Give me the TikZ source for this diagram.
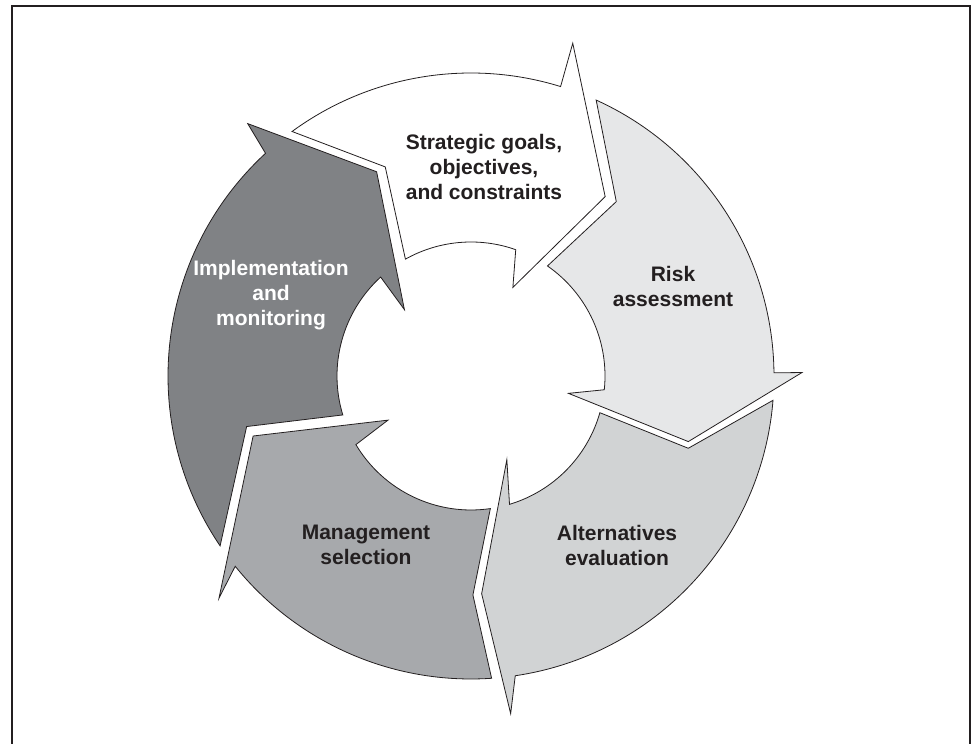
\documentclass[tikz,border=0pt]{standalone}
\usepackage{fontspec}
\setmainfont{Liberation Sans}
\usetikzlibrary{positioning}

\definecolor{inkdark}{HTML}{231F20}
\definecolor{shadeA}{HTML}{FFFFFF}
\definecolor{shadeB}{HTML}{E6E7E8}
\definecolor{shadeC}{HTML}{D1D3D4}
\definecolor{shadeD}{HTML}{A7A9AC}
\definecolor{shadeE}{HTML}{808285}

\newcommand{\Rout}{303pt}
\newcommand{\Rin}{134pt}

\tikzset{
  seg/.style={draw=inkdark, line width=0.8pt, line join=miter},
  cyctext/.style={font=\bfseries\fontsize{21}{25}\selectfont, align=center, text=inkdark, inner sep=0pt}
}

\begin{document}
\begin{tikzpicture}[x=1pt, y=1pt]
\useasboundingbox (0,0) rectangle (977,744);
% frame
\draw[inkdark, line width=2pt] (12,0) -- (12,738) -- (970,738) -- (970,0);

\begin{scope}[shift={(471,368)}]
% strategic goals
\filldraw[seg, fill=shadeA] (126.2:\Rout) arc[start angle=126.2, end angle=72.8, radius=\Rout]
  -- (73.0:348pt) -- (53.2:224pt) -- (64.7:98pt) -- (70.5:\Rin)
  arc[start angle=70.5, end angle=119.3, radius=\Rin] -- (112.3:226pt) -- cycle;
% risk assessment
\filldraw[seg, fill=shadeB] (65.6:\Rout) arc[start angle=65.6, end angle=0.6, radius=\Rout]
  -- (0.6:331pt) -- (-16.8:227pt) -- (-10.1:99pt) -- (-5.9:\Rin)
  arc[start angle=-5.9, end angle=55.2, radius=\Rin] -- (50.2:227pt) -- cycle;
% alternatives evaluation
\filldraw[seg, fill=shadeC] (-4.6:\Rout) arc[start angle=-4.6, end angle=-81.6, radius=\Rout]
  -- (-83.3:340pt) -- (-87.2:218pt) -- (-66.8:91pt) -- (-73.3:\Rin)
  arc[start angle=-73.3, end angle=-15.9, radius=\Rin] -- (-18.4:229pt) -- cycle;
% management selection
\filldraw[seg, fill=shadeD] (273.9:\Rout) arc[start angle=273.9, end angle=218.9, radius=\Rout]
  -- (221.4:336pt) -- (195.4:226pt) -- (208.0:94pt) -- (210.8:\Rin)
  arc[start angle=210.8, end angle=278.3, radius=\Rin] -- (270.5:219pt) -- cycle;
% implementation and monitoring
\filldraw[seg, fill=shadeE] (214.1:\Rout) arc[start angle=214.1, end angle=132.7, radius=\Rout]
  -- (131.5:337pt) -- (114.8:225pt) -- (135.1:94pt) -- (132.4:\Rin)
  arc[start angle=132.4, end angle=196.9, radius=\Rin] -- (192.7:230pt) -- cycle;
\end{scope}

\node[cyctext] (goals) at (484,577) {Strategic goals,\\objectives,\\and constraints};
\node[cyctext] (risk) at (673,458) {Risk\\assessment};
\node[cyctext] (alt) at (617,199) {Alternatives\\evaluation};
\node[cyctext] (mgmt) at (366,199) {Management\\selection};
\node[cyctext, text=white] (impl) at (271,449) {Implementation\\and\\monitoring};
\end{tikzpicture}
\end{document}
